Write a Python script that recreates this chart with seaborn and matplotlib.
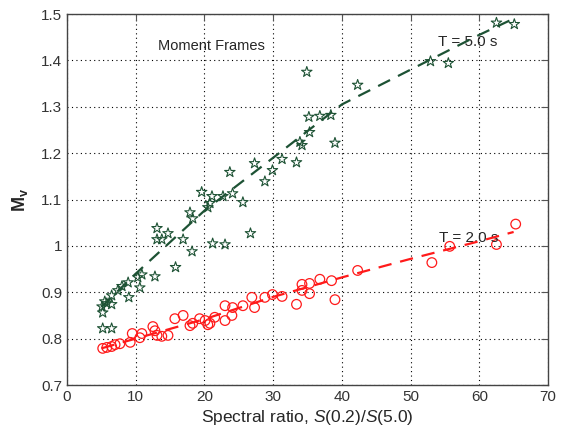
import matplotlib
matplotlib.use("Agg")
import matplotlib.pyplot as plt
import seaborn as sns
import pandas as pd

# Spectral ratio S(0.2)/S(5.0) and M_v for the T = 5.0 s set (stars)
ratio_t5 = [62.5, 65.1, 52.9, 55.5, 34.9, 42.3, 35.2, 36.8, 38.4, 35.3,
            39.0, 34.2, 33.9, 33.4, 31.3, 27.3, 29.9, 23.7, 28.8, 19.6,
            21.1, 22.7, 24.1, 20.8, 25.6, 20.5, 17.9, 18.3, 13.1, 14.7,
            13.1, 13.8, 16.9, 26.7, 21.2, 23.0, 18.2, 15.8, 12.8, 10.9,
            10.3, 10.6, 8.9, 8.0, 7.4, 9.0, 6.5, 5.5, 6.5, 5.1,
            5.2, 5.2, 6.5, 5.8]
mv_t5 = [1.481, 1.478, 1.398, 1.394, 1.375, 1.347, 1.278, 1.280, 1.282, 1.245,
         1.222, 1.217, 1.224, 1.180, 1.187, 1.178, 1.163, 1.159, 1.139, 1.116,
         1.107, 1.107, 1.113, 1.092, 1.094, 1.083, 1.072, 1.059, 1.038, 1.027,
         1.014, 1.014, 1.014, 1.027, 1.005, 1.003, 0.988, 0.954, 0.934, 0.938,
         0.932, 0.910, 0.921, 0.913, 0.904, 0.889, 0.893, 0.880, 0.874, 0.869,
         0.856, 0.822, 0.822, 0.876]

# Spectral ratio and M_v for the T = 2.0 s set (circles)
ratio_t2 = [5.2, 5.8, 6.5, 7.0, 7.7, 9.2, 9.5, 10.6, 10.9, 12.5,
            12.8, 13.1, 13.8, 14.7, 15.7, 16.9, 17.9, 18.3, 19.3, 20.1,
            20.5, 20.8, 21.5, 23.0, 23.0, 24.0, 24.1, 25.6, 26.9, 27.3,
            28.8, 29.9, 31.3, 33.4, 34.2, 34.2, 35.3, 35.3, 36.8, 38.5,
            39.0, 42.3, 53.1, 55.7, 62.5, 65.3]
mv_t2 = [0.779, 0.781, 0.783, 0.787, 0.789, 0.792, 0.811, 0.802, 0.811, 0.826,
         0.817, 0.807, 0.805, 0.807, 0.843, 0.850, 0.828, 0.833, 0.843, 0.839,
         0.830, 0.833, 0.846, 0.839, 0.871, 0.850, 0.867, 0.871, 0.889, 0.867,
         0.889, 0.895, 0.891, 0.874, 0.917, 0.904, 0.919, 0.897, 0.928, 0.925,
         0.884, 0.947, 0.964, 0.999, 1.003, 1.047]

# Fitted trend curves
fit_ratio = [5, 10, 20, 30, 40, 50, 60, 65]
fit_t5 = [0.868, 0.940, 1.076, 1.190, 1.305, 1.380, 1.455, 1.490]
fit_t2 = [0.779, 0.800, 0.842, 0.890, 0.932, 0.972, 1.010, 1.030]

x_ticks = [0, 10, 20, 30, 40, 50, 60, 70]
y_ticks = [0.7, 0.8, 0.9, 1.0, 1.1, 1.2, 1.3, 1.4, 1.5]
y_tick_labels = ["0.7", "0.8", "0.9", "1", "1.1", "1.2", "1.3", "1.4", "1.5"]

sns.set_style("white")
plt.rcParams["font.family"] = ["Liberation Sans", "DejaVu Sans"]
plt.rcParams["mathtext.fontset"] = "custom"
plt.rcParams["mathtext.rm"] = "Liberation Sans"
plt.rcParams["mathtext.it"] = "Liberation Sans:italic"
plt.rcParams["mathtext.bf"] = "Liberation Sans:bold"

green = "#1d5234"
red = "#ff1a1a"

fig = plt.figure(figsize=(5.61, 4.38), dpi=100)
ax = fig.add_axes([0.1194, 0.121, 0.8574, 0.847])

df5 = pd.DataFrame({"ratio": ratio_t5, "mv": mv_t5})
df2 = pd.DataFrame({"ratio": ratio_t2, "mv": mv_t2})
fit = pd.DataFrame({"ratio": fit_ratio, "t5": fit_t5, "t2": fit_t2})

sns.scatterplot(data=df5, x="ratio", y="mv", ax=ax, marker="*", s=62,
                facecolor="none", edgecolor=green, linewidth=0.8, zorder=3)
sns.scatterplot(data=df2, x="ratio", y="mv", ax=ax, marker="o", s=48,
                facecolor="none", edgecolor=red, linewidth=0.9, zorder=3)
sns.lineplot(data=fit, x="ratio", y="t5", ax=ax, color=green, lw=1.6,
             zorder=4).lines[-1].set_dashes([6, 4])
sns.lineplot(data=fit, x="ratio", y="t2", ax=ax, color=red, lw=1.6,
             zorder=4).lines[-1].set_dashes([6, 4])

ax.set_xlim(0, 70)
ax.set_ylim(0.7, 1.5)
ax.set_xticks(x_ticks)
ax.set_yticks(y_ticks)
ax.set_yticklabels(y_tick_labels)
ax.grid(True, color="black", linestyle=(0, (1, 3)), linewidth=0.8)
ax.tick_params(direction="in", top=True, right=True, length=5,
               labelsize=11, labelcolor="#333333", color="#555555")
for s in ax.spines.values():
    s.set_color("#444444")
    s.set_linewidth(1.0)

ax.set_xlabel("Spectral ratio, $\\mathit{S}$(0.2)/$\\mathit{S}$(5.0)",
              fontsize=12.5, labelpad=3)
ax.set_ylabel("$\\mathbf{M_{v}}$", fontsize=13, labelpad=8)

ax.text(21, 1.432, "Moment Frames", fontsize=10.5, ha="center", va="center")
ax.text(58.3, 1.44, "T = 5.0 s", fontsize=11, ha="center", va="center")
ax.text(58.5, 1.018, "T = 2.0 s", fontsize=11, ha="center", va="center")

fig.savefig("out.png", dpi=100)
